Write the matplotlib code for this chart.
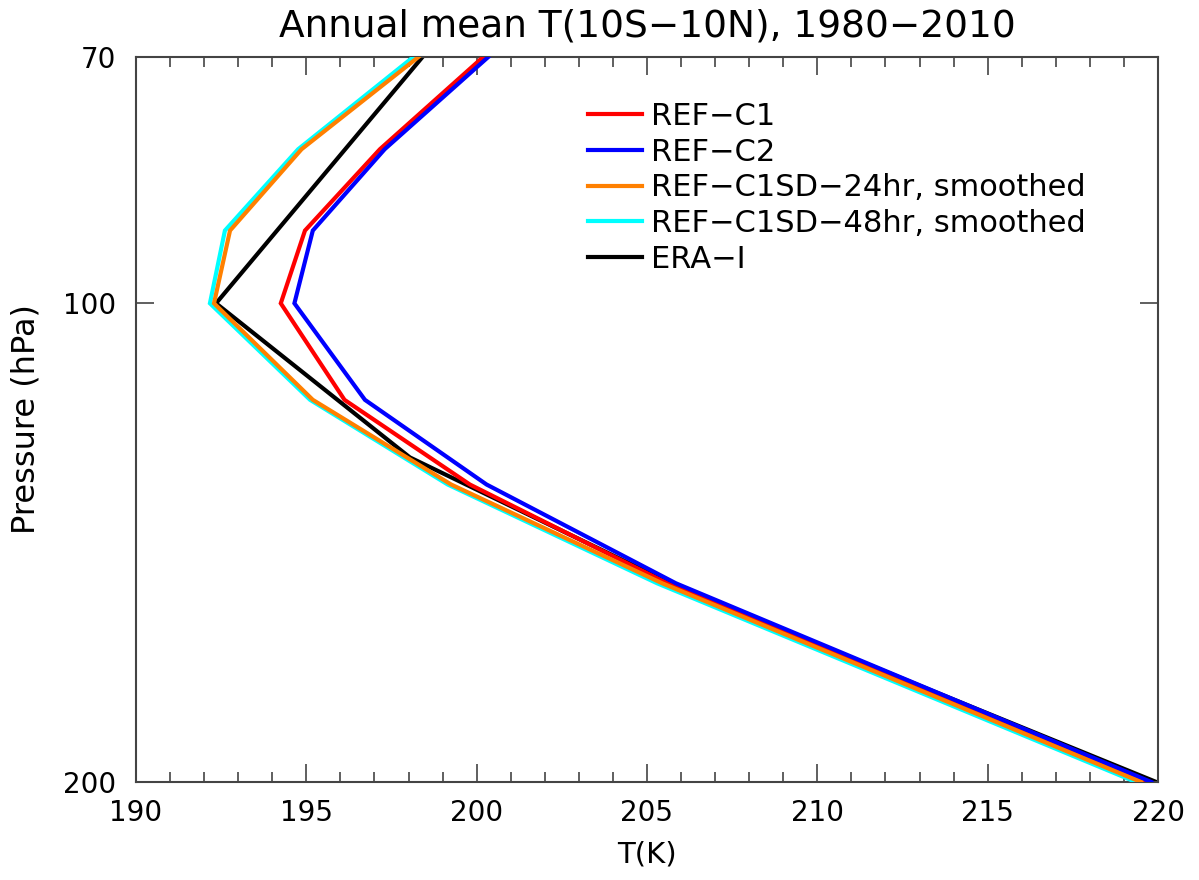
import numpy as np
import matplotlib
matplotlib.use("Agg")
import matplotlib.pyplot as plt
from matplotlib.ticker import FixedLocator, MultipleLocator, NullLocator

# model pressure levels (hPa) and annual-mean tropical temperatures (K)
lev_model = [70, 80, 90, 100, 115, 130, 150, 200]
t_refc1 = [200.19, 197.16, 194.96, 194.25, 196.12, 199.80, 205.60, 219.60]
t_refc2 = [200.34, 197.30, 195.19, 194.65, 196.72, 200.29, 205.85, 219.80]
t_sd24 = [198.29, 194.86, 192.76, 192.29, 195.19, 199.25, 205.45, 219.50]
t_sd48 = [198.14, 194.76, 192.61, 192.17, 195.11, 199.15, 205.30, 219.35]

# ERA-Interim standard levels
lev_era = [70, 100, 125, 150, 175, 200]
t_era = [198.41, 192.35, 198.04, 205.70, 213.30, 219.95]

series = [
    ("REF\u2212C1", t_refc1, lev_model, "#ff0000", 3),
    ("REF\u2212C2", t_refc2, lev_model, "#0000ff", 5),
    ("REF\u2212C1SD\u221224hr, smoothed", t_sd24, lev_model, "#ff8000", 6),
    ("REF\u2212C1SD\u221248hr, smoothed", t_sd48, lev_model, "#00ffff", 4),
    ("ERA\u2212I", t_era, lev_era, "#000000", 2),
]

plt.rcParams["font.family"] = ["DejaVu Sans"]
fig = plt.figure(figsize=(11.99, 8.80), dpi=100)
ax = fig.add_axes([136/1199, 1-782/880, (1158-136)/1199, (782-57)/880])

for name, t, lev, col, z in series:
    ax.plot(t, lev, color=col, lw=3, label=name, zorder=z, solid_joinstyle="miter")

ax.set_yscale("log")
ax.set_ylim(200, 70)
ax.set_xlim(190, 220)
ax.yaxis.set_major_locator(FixedLocator([70, 100, 200]))
ax.yaxis.set_minor_locator(NullLocator())
ax.set_yticklabels(["70", "100", "200"])
ax.xaxis.set_major_locator(MultipleLocator(5))
ax.xaxis.set_minor_locator(MultipleLocator(1))

axcol = "#444444"
for s in ax.spines.values():
    s.set_color(axcol)
    s.set_linewidth(1.5)
ax.tick_params(which="both", direction="in", top=True, right=True, colors=axcol,
               labelcolor="black", labelsize=20, width=1.2)
ax.tick_params(which="major", length=13, pad=14)
ax.tick_params(which="minor", length=7)
ax.tick_params(axis="x", which="major", pad=12)

ax.set_title("Annual mean T(10S\u221210N), 1980\u22122010", fontsize=27, pad=15)
ax.set_xlabel("T(K)", fontsize=21, labelpad=10)
ax.set_ylabel("Pressure (hPa)", fontsize=23, labelpad=16)

ax.legend(loc="upper left", bbox_to_anchor=(588/1199, 1-102/880), bbox_transform=fig.transFigure,
          frameon=False, fontsize=22, handlelength=1.77, handletextpad=0.3,
          labelspacing=0.22, borderpad=0, borderaxespad=0)

fig.savefig("out.png", dpi=100)
